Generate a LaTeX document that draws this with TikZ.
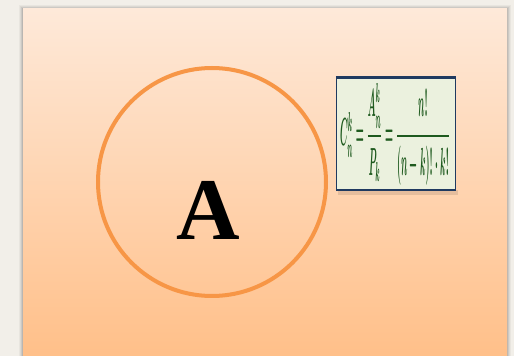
\documentclass[tikz,border=0pt]{standalone}
\usepackage{fontspec}
\newfontfamily\serifbold{Liberation Serif}
\usepackage{amsmath}
\definecolor{pagebg}{HTML}{F2EFE9}
\definecolor{slidetop}{HTML}{FEE9D9}
\definecolor{slidebot}{HTML}{FFBF88}
\definecolor{ringcol}{HTML}{F79646}
\definecolor{boxfill}{HTML}{EBF1DE}
\definecolor{boxline}{HTML}{1F3A60}
\definecolor{formcol}{HTML}{1E5A1E}
\tikzset{
  slide/.style={top color=slidetop, bottom color=slidebot, draw=none},
  ring/.style={draw=ringcol, line width=4pt},
  formbox/.style={fill=boxfill, draw=boxline, line width=1.5pt},
}
\begin{document}
\begin{tikzpicture}[x=1pt,y=1pt]
\fill[pagebg] (0,0) rectangle (514,356);
\useasboundingbox (0,0) rectangle (514,356);
% slide shadow
\foreach \d/\o in {4/0.04,3/0.05,2/0.07,1/0.09}{
  \fill[black,opacity=\o] (23-\d,-5) rectangle (507+\d,347+\d);
}
\fill[slide] (23,-5) rectangle (507,347);
% circle
\node[ring, circle, minimum size=228pt, inner sep=0pt] (c) at (212,174) {};
\node (A) at (208,146) {\serifbold\fontsize{88}{88}\selectfont\bfseries A};
% formula box
\fill[black,opacity=0.1] (338,166) rectangle (458,161);
\node[formbox, minimum width=119pt, minimum height=112pt, inner sep=0pt] (f) at (396,222) {};
\draw[boxline, line width=3pt] (f.north west) -- (f.north east);
\node[text=formcol, inner sep=0pt] (eq) at ([xshift=-1pt]f.center) {\resizebox*{110pt}{102pt}{\boldmath$C_n^k=\dfrac{A_n^k}{P_k}=\dfrac{n!}{(n-k)!\cdot k!}$}};
\end{tikzpicture}
\end{document}
